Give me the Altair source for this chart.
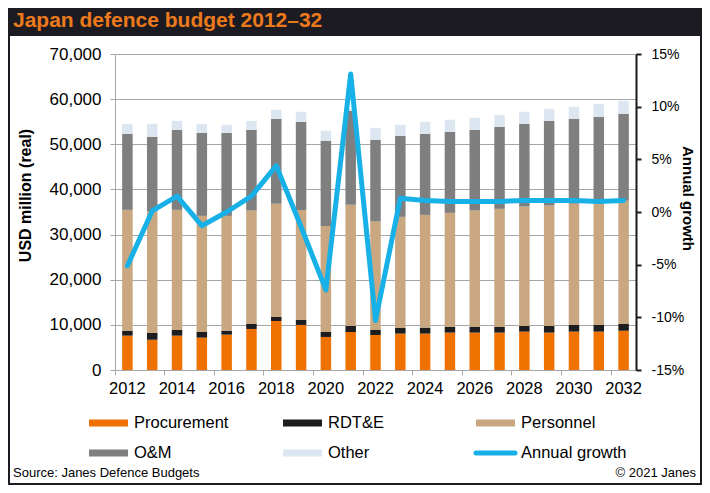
import pandas as pd
import altair as alt

years = list(range(2012, 2033))

# USD million (real)
procurement = [7610, 6720, 7610, 7170, 7830, 9090, 10860, 9980, 7320, 8420, 7760,
               8060, 8060, 8280, 8280, 8280, 8500, 8280, 8500, 8500, 8720]
rdte = [1110, 1480, 1260, 1250, 890, 1110, 890, 1100, 1100, 1330, 1110,
        1250, 1330, 1250, 1250, 1250, 1250, 1470, 1480, 1480, 1480]
personnel = [26750, 26900, 26600, 25720, 25420, 25120, 25050, 24390, 23500, 26830, 24020,
             24610, 24970, 25280, 25790, 26160, 26460, 26680, 26820, 27120, 27270]
om = [16850, 16550, 17730, 18400, 18400, 17880, 18850, 19510, 18850, 20840, 18100,
      17960, 17960, 17950, 17890, 18180, 18330, 18770, 18850, 18990, 19290]
other = [2220, 2890, 2000, 2000, 1780, 2000, 1990, 2220, 2220, 400, 2660,
         2440, 2660, 2670, 2660, 2660, 2660, 2660, 2660, 2880, 2880]

# annual growth, %
growth = [-5.1, 0.1, 1.5, -1.3, 0.0, 1.5, 4.4, -1.4, -7.4, 13.1, -10.3,
          1.3, 1.1, 1.0, 1.0, 1.0, 1.1, 1.1, 1.1, 1.0, 1.1]

series = ["Procurement", "RDT&E", "Personnel", "O&M", "Other"]
colors = ["#ef7100", "#1d1d1f", "#c8a781", "#7f7f7f", "#dce6f0"]
line_name = "Annual growth"
line_color = "#17b1e7"

title_text = "Japan defence budget 2012–32"
source_text = "Source: Janes Defence Budgets"
copy_text = "© 2021 Janes"

FONT = "Liberation Sans"
W, H = 521, 316
PAD = {"left": 107, "top": 46, "right": 66, "bottom": 115}

rows = []
for name, vals in zip(series, [procurement, rdte, personnel, om, other]):
    for y, v in zip(years, vals):
        rows.append({"year": y, "series": name, "value": v, "order": series.index(name)})
bars_df = pd.DataFrame(rows)
growth_df = pd.DataFrame({"year": years, "growth": growth})

even_years = [y for y in years if y % 2 == 0]

bars = alt.Chart(bars_df).mark_bar(size=10.5).encode(
    x=alt.X("year:O", scale=alt.Scale(paddingInner=0, paddingOuter=0),
            axis=alt.Axis(title=None, values=even_years, ticks=False, labelAngle=0,
                          labelFontSize=16.5, labelPadding=10, labelColor="#000",
                          domainColor="#a6a6a6", labelFont=FONT)),
    y=alt.Y("value:Q", stack="zero",
            scale=alt.Scale(domain=[0, 70000], nice=False),
            axis=alt.Axis(title="USD million (real)", values=list(range(0, 70001, 10000)),
                          format=",.0f", labelFontSize=17, labelFont=FONT, labelColor="#000",
                          labelPadding=9, tickSize=5, tickColor="#a6a6a6",
                          domainColor="#a6a6a6", gridColor="#a6a6a6",
                          titleFont=FONT, titleFontSize=16, titleFontWeight="bold",
                          titleColor="#000", titleX=-90, titleY=141,
                          titleBaseline="middle")),
    color=alt.Color("series:N", scale=alt.Scale(domain=series, range=colors), legend=None),
    order=alt.Order("order:Q"),
)

line = alt.Chart(growth_df).mark_line(color=line_color, strokeWidth=5,
                                      strokeCap="round", strokeJoin="round").encode(
    x=alt.X("year:O",
            axis=alt.Axis(title=None, orient="bottom", values=even_years, bandPosition=0,
                          labels=False, domain=False, tickColor="#a6a6a6", tickSize=5)),
    y=alt.Y("growth:Q", scale=alt.Scale(domain=[-15, 15], nice=False),
            axis=alt.Axis(title="Annual growth", orient="right",
                          values=list(range(-15, 16, 5)),
                          labelExpr="datum.value + '%'", grid=False,
                          labelFontSize=14, labelFont=FONT, labelColor="#000",
                          labelPadding=10, tickSize=5, tickColor="#1a1a1a",
                          tickWidth=2, domainColor="#1a1a1a", domainWidth=2,
                          titleFont=FONT, titleFontSize=15, titleFontWeight="bold",
                          titleColor="#000", titleX=51, titleY=144, titleAngle=90,
                          titleBaseline="middle")),
)

# legend: three columns, two rows
leg_names = series + [line_name]
leg_colors = colors + [line_color]
col_x = [-26, 168, 361]
row_y = [369, 399]
leg_df = pd.DataFrame({
    "name": leg_names,
    "color": leg_colors,
    "x": [col_x[i % 3] for i in range(6)],
    "y": [row_y[i // 3] for i in range(6)],
})
leg_df["x2"] = leg_df["x"] + 39
leg_df["tx"] = leg_df["x"] + 45
leg_df["top"] = leg_df["y"] - 3.5
leg_df["bot"] = leg_df["y"] + 3.5

leg_rects = alt.Chart(leg_df[leg_df["name"] != line_name]).mark_rect().encode(
    x=alt.X("x:Q", scale=None), x2="x2:Q",
    y=alt.Y("top:Q", scale=None), y2="bot:Q",
    color=alt.Color("color:N", scale=None),
)
leg_line = alt.Chart(leg_df[leg_df["name"] == line_name]).mark_rule(
    strokeWidth=5, strokeCap="round").encode(
    x=alt.X("x:Q", scale=None), x2="x2:Q",
    y=alt.Y("y:Q", scale=None),
    color=alt.Color("color:N", scale=None),
)
leg_text = alt.Chart(leg_df).mark_text(align="left", baseline="middle", fontSize=16.5,
                                       font=FONT, color="#000").encode(
    x=alt.X("tx:Q", scale=None), y=alt.Y("y:Q", scale=None), text="name:N",
)

# frame and title bar
frame_df = pd.DataFrame({"t": [title_text]})
title_bar = alt.Chart(frame_df).mark_rect(color="#1c1b21").encode(
    x=alt.value(-107), x2=alt.value(587), y=alt.value(-46), y2=alt.value(-18),
)
border = alt.Chart(frame_df).mark_rect(filled=False, stroke="#1c1b21", strokeWidth=4).encode(
    x=alt.value(-107), x2=alt.value(587), y=alt.value(-46), y2=alt.value(431),
)
title = alt.Chart(frame_df).mark_text(align="left", baseline="alphabetic", fontSize=21,
                                      fontWeight="bold", font=FONT, color="#ec7a1c").encode(
    x=alt.value(-102), y=alt.value(-27.5), text="t:N",
)
source = alt.Chart(pd.DataFrame({"t": [source_text]})).mark_text(
    align="left", baseline="alphabetic", fontSize=13, font=FONT, color="#000").encode(
    x=alt.value(-102), y=alt.value(423), text="t:N",
)
copyright_ = alt.Chart(pd.DataFrame({"t": [copy_text]})).mark_text(
    align="right", baseline="alphabetic", fontSize=13, font=FONT, color="#000").encode(
    x=alt.value(581), y=alt.value(423), text="t:N",
)

chart = alt.layer(
    bars, line, leg_rects, leg_line, leg_text, title_bar, border, title, source, copyright_
).resolve_scale(
    y="independent"
).resolve_axis(
    x="independent", y="independent"
).properties(
    width=W, height=H, padding=PAD,
    autosize=alt.AutoSizeParams(type="none"),
    background="white",
).configure_view(strokeWidth=0)

chart.save("out.html", embed_options={"renderer": "svg", "actions": False})
